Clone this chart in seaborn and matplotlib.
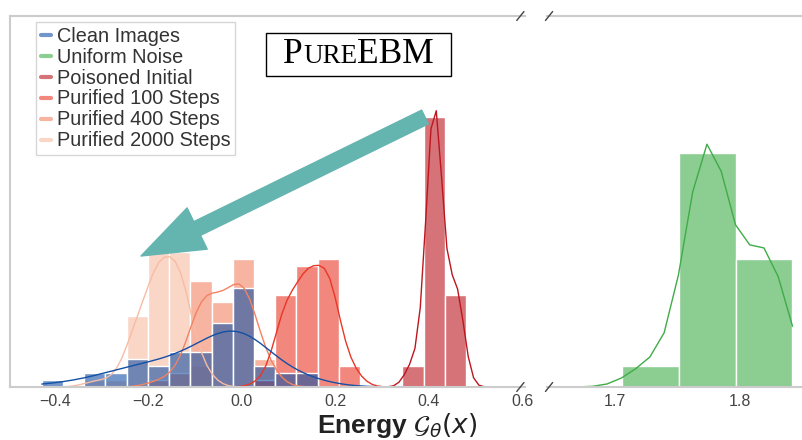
# ========== Libraries ==========

import pandas as pd
import matplotlib
matplotlib.use("Agg")
import matplotlib.pyplot as plt
import seaborn as sns
from matplotlib.lines import Line2D
from matplotlib.offsetbox import TextArea, HPacker, DrawingArea, AnnotationBbox


# ========== Data ==========

# energy at the centre of each histogram bin, and the bar count
clean_energy = [-0.405, -0.314, -0.269, -0.224, -0.178, -0.133, -0.087, -0.042, 0.004, 0.049, 0.094, 0.140]
clean_count = [1, 2, 2, 4, 3, 5, 5, 9, 14, 3, 2, 2]

noise_energy = [1.729, 1.774, 1.820]
noise_count = [3, 33, 18]

poisoned_energy = [0.367, 0.412, 0.458]
poisoned_count = [3, 38, 13]

purified100_energy = [0.049, 0.094, 0.140, 0.185, 0.231]
purified100_count = [1, 13, 17, 18, 3]

purified400_energy = [-0.178, -0.133, -0.087, -0.042, 0.004, 0.049]
purified400_count = [1, 2, 15, 12, 18, 4]

purified2000_energy = [-0.314, -0.269, -0.224, -0.178, -0.133, -0.087]
purified2000_count = [1, 1, 10, 19, 19, 3]

labels = ["Clean Images", "Uniform Noise", "Poisoned Initial",
          "Purified 100 Steps", "Purified 400 Steps", "Purified 2000 Steps"]
colors = ["#1450a5", "#3fac48", "#bc161e", "#e93726", "#f28261", "#f7bca3"]

left_ticks = [-0.4, -0.2, 0.0, 0.2, 0.4, 0.6]
right_ticks = [1.7, 1.8]

energies = [clean_energy, noise_energy, poisoned_energy,
            purified100_energy, purified400_energy, purified2000_energy]
counts = [clean_count, noise_count, poisoned_count,
          purified100_count, purified400_count, purified2000_count]

df = pd.concat([pd.DataFrame({"energy": e, "count": c, "group": lab})
                for e, c, lab in zip(energies, counts, labels)], ignore_index=True)


# ========== Plot ==========

sns.set_style("white")
plt.rcParams["font.family"] = ["Liberation Sans", "DejaVu Sans"]

fig = plt.figure(figsize=(8.02, 4.4), dpi=100)
ax1 = fig.add_axes([10 / 802, 53 / 440, 515 / 802, 371 / 440])
ax2 = fig.add_axes([547 / 802, 53 / 440, 255 / 802, 371 / 440])

# same histogram on both halves of the broken axis
for ax in (ax1, ax2):
    sns.histplot(data=df, x="energy", weights="count", hue="group", hue_order=labels,
                 palette=colors, bins=50, binrange=(-0.428, 1.842), kde=True,
                 kde_kws=dict(bw_method=0.5, cut=1, clip=(-0.428, 1.842)),
                 line_kws=dict(linewidth=1),
                 alpha=0.6, edgecolor="white", linewidth=1, legend=False, ax=ax)
    ax.set_ylim(0, 52.3)
    ax.set_yticks([])
    ax.set_ylabel("")
    ax.set_xlabel("")
    ax.tick_params(axis="x", labelsize=11.5, colors="#444444", length=0, pad=5)
    for side in ("top", "bottom", "left", "right"):
        ax.spines[side].set_color("#cccccc")
        ax.spines[side].set_linewidth(1.5)
        ax.spines[side].set_zorder(4)

ax1.set_xlim(-0.496, 0.606)
ax1.set_xticks(left_ticks)
ax1.spines["right"].set_visible(False)

ax2.set_xlim(1.6456, 1.8496)
ax2.set_xticks(right_ticks)
ax2.spines["left"].set_visible(False)
ax2.spines["right"].set_visible(False)

# break marks
mark = dict(color="#444444", linewidth=1, clip_on=False, zorder=6)
for y in (0, 1):
    ax1.plot([1 - 0.016, 1 - 0.002], [y - 0.012, y + 0.012], transform=ax1.transAxes, **mark)
    ax2.plot([-0.006, 0.022], [y - 0.012, y + 0.012], transform=ax2.transAxes, **mark)

# legend
handles = [Line2D([], [], color=c, alpha=0.6, linewidth=3) for c in colors]
leg = ax1.legend(handles, labels, loc="upper left", bbox_to_anchor=(0.05, 0.985),
                 fontsize=14.3, frameon=True, fancybox=False, edgecolor="#cccccc",
                 handlelength=0.5, handletextpad=0.3, labelspacing=0.1,
                 borderpad=0.25, borderaxespad=0)
for t in leg.get_texts():
    t.set_color("#333333")

# PureEBM box
serif = dict(family="Liberation Serif", color="black")
title_parts = [DrawingArea(9, 1),
               TextArea("P", textprops=dict(fontsize=25.5, **serif)),
               TextArea("URE", textprops=dict(fontsize=19.5, **serif)),
               TextArea("EBM", textprops=dict(fontsize=25.5, **serif)),
               DrawingArea(9, 1)]
title_box = HPacker(children=title_parts, align="baseline", pad=0, sep=0)
ab = AnnotationBbox(title_box, (358.5 / 802, 1 - 54.5 / 440), xycoords="figure fraction",
                    box_alignment=(0.5, 0.5), frameon=True, pad=0.35,
                    bboxprops=dict(edgecolor="black", linewidth=1, boxstyle="square,pad=0.35"))
ab.set_zorder(10)
fig.add_artist(ab)

# purification arrow
ax1.annotate("", xy=(141, 440 - 256), xycoords="figure pixels",
             xytext=(425, 440 - 117), textcoords="figure pixels",
             arrowprops=dict(arrowstyle="simple,head_length=4.5,head_width=3.3,tail_width=1.1",
                             mutation_scale=10, color="#64b4af", shrinkA=0, shrinkB=0),
             zorder=5)

fig.text(397.5 / 802, 1 - 433 / 440, r"Energy $\mathcal{G}_{\theta}(x)$", ha="center",
         va="baseline", fontsize=19, fontweight="bold", color="#222222")

fig.savefig("out.png", dpi=100)
